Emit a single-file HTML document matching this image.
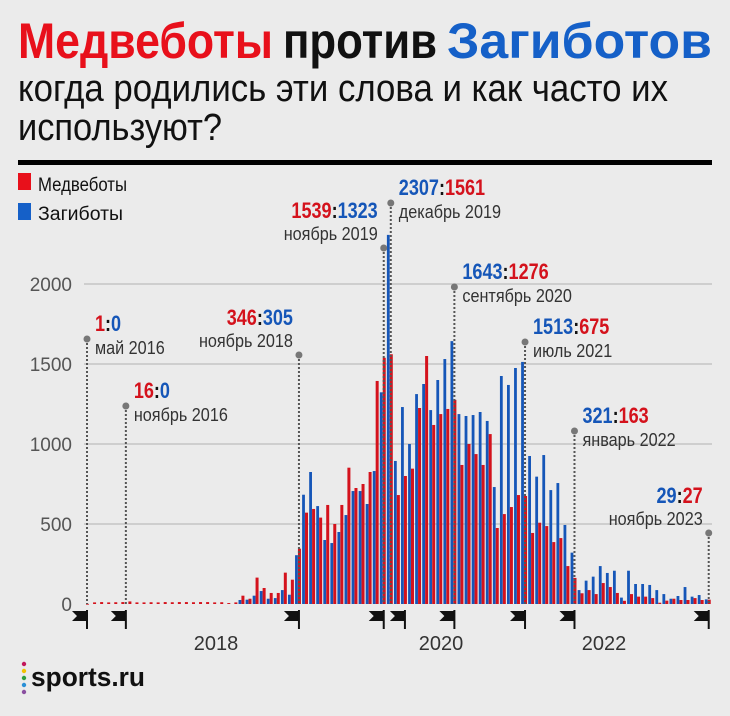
<!DOCTYPE html>
<html><head><meta charset="utf-8"><style>
html,body{margin:0;padding:0;background:#ebebeb;}
svg{display:block;font-family:"Liberation Sans Narrow","Liberation Sans",sans-serif;}
</style></head><body>
<svg id="chart" width="730" height="716" viewBox="0 0 730 716" xmlns="http://www.w3.org/2000/svg">
<rect width="730" height="716" fill="#ebebeb"/>
<g font-weight="bold" font-size="50">
<text x="18" y="58" fill="#e8101b" textLength="255" lengthAdjust="spacingAndGlyphs">Медвеботы</text>
<text x="283" y="58" fill="#111" textLength="154" lengthAdjust="spacingAndGlyphs">против</text>
<text x="447" y="58" fill="#1560c8" textLength="265" lengthAdjust="spacingAndGlyphs">Загиботов</text>
</g>
<text x="18" y="101" font-size="38" fill="#111" textLength="650" lengthAdjust="spacingAndGlyphs">когда родились эти слова и как часто их</text>
<text x="18" y="140" font-size="38" fill="#111" textLength="204" lengthAdjust="spacingAndGlyphs">используют?</text>
<rect x="18" y="160" width="694" height="5" fill="#000"/>
<g>
<rect x="18" y="173" width="13" height="17" fill="#e8101b"/>
<text x="38" y="191" font-size="19" fill="#111" textLength="89" lengthAdjust="spacingAndGlyphs">Медвеботы</text>
<rect x="18" y="203" width="13" height="17" fill="#1560c8"/>
<text x="38" y="220" font-size="19" fill="#111" textLength="85" lengthAdjust="spacingAndGlyphs">Загиботы</text>
</g>
<g id="grid"></g>
<g id="bars"></g>
<g id="annots"></g>
<g id="flags"></g>
<g font-size="20" fill="#333" font-family="Liberation Sans, sans-serif" text-anchor="middle">
<text x="216" y="650">2018</text>
<text x="441" y="650">2020</text>
<text x="604" y="650">2022</text>
</g>
<g>
<circle cx="24" cy="664" r="2.2" fill="#c2185b"/>
<circle cx="24" cy="671" r="2.2" fill="#f2c200"/>
<circle cx="24" cy="678" r="2.2" fill="#2e9e3e"/>
<circle cx="24" cy="685" r="2.2" fill="#2a8fd6"/>
<circle cx="24" cy="692" r="2.2" fill="#8a4fa0"/>
<text x="31" y="686" font-size="27" font-weight="bold" fill="#111" textLength="114" lengthAdjust="spacingAndGlyphs">sports.ru</text>
</g>
</svg>
<script>
const yTicks = [0, 500, 1000, 1500, 2000];
const zagibots = [0,0,0,0,0,0,0,0,0,0,0,0,0,0,0,0,0,0,0,0,0,0,25,27,52,81,33,37,87,58,
305,683,825,612,400,381,450,556,706,706,625,831,1323,2307,
894,1231,1000,1312,1375,1212,1400,1531,1643,1187,1175,1181,1200,1144,731,1425,1369,1475,1513,
925,796,931,712,756,494,321,87,146,171,237,194,208,40,208,125,125,119,87,62,33,50,106,46,56,29];
const medvebots = [1,10,12,10,11,12,16,10,10,11,10,12,11,12,12,11,12,12,10,11,6,10,52,33,165,100,69,69,196,152,
346,571,594,540,619,500,619,852,725,750,825,1394,1539,1561,
681,800,846,1225,1550,1119,1187,1219,1276,869,1000,937,869,1062,475,562,606,681,675,
444,508,487,387,412,237,163,67,87,62,131,106,69,20,62,46,46,37,8,21,33,25,25,37,25,27];
const annIndex = [0, 5.5, 30, 42, 43, 52, 62, 69, 88];
const annMonth = ["май 2016","ноябрь 2016","ноябрь 2018","ноябрь 2019","декабрь 2019","сентябрь 2020","июль 2021","январь 2022","ноябрь 2023"];
const annFirst = ["1","16","346","1539","2307","1643","1513","321","29"];
const annFirstColor = ["r","r","r","r","b","b","b","b","b"];
const annSecond = ["0","0","305","1323","1561","1276","675","163","27"];
const flagIndex = [0, 5.5, 30, 42, 45, 52, 62, 69, 88];

const NS = "http://www.w3.org/2000/svg";
const RED = "#d4121c", BLUE = "#1556b8";
function xPos(i){ return 86 + 7.065 * i; }
function yPos(v){ return 604 - v * 0.16; }
function mk(tag, attrs, parent){ const e = document.createElementNS(NS, tag); for (const k in attrs) e.setAttribute(k, attrs[k]); parent.appendChild(e); return e; }
function condense(t, f){ const w = t.getComputedTextLength(); if (w > 0) { t.setAttribute('textLength', (w * f).toFixed(1)); t.setAttribute('lengthAdjust', 'spacingAndGlyphs'); } }

const grid = document.getElementById('grid');
yTicks.forEach(t => {
  if (t > 0) {
    const l = mk('line', {x1:84, x2:712, y1:yPos(t), y2:yPos(t), stroke:'#bdbdbd', 'stroke-width':1.2}, grid);
    
    
  }
  const tx = mk('text', {x: 72, y: yPos(t) + 7, 'text-anchor':'end', 'font-size':19, fill:'#555', 'font-family':'Liberation Sans, sans-serif'}, grid);
  tx.textContent = t;
  
  
});

const bars = document.getElementById('bars');
for (let i = 0; i < zagibots.length; i++) {
  const c = xPos(i);
  if (zagibots[i] > 0) {
    const b = mk('rect', {x: c - 2.9, y: yPos(zagibots[i]), width: 2.8, height: zagibots[i] * 0.16, fill: BLUE}, bars);
    
    
  }
  if (medvebots[i] > 0) {
    const r = mk('rect', {x: c, y: yPos(medvebots[i]), width: 3, height: Math.max(medvebots[i] * 0.16, 0.8), fill: RED}, bars);
    
    
  }
}

const ann = document.getElementById('annots');
const dotY = [339, 406, 355, 248, 203, 287, 342, 431, 533];
const rightAligned = [false, false, true, true, false, false, false, false, true];
for (let k = 0; k < annIndex.length; k++) {
  const x = xPos(annIndex[k]) + 1;
  const g = mk('g', {}, ann);
  
  
  mk('line', {x1:x, x2:x, y1:dotY[k], y2:604, stroke:'#555', 'stroke-width':2, 'stroke-dasharray':'2 2'}, g);
  mk('circle', {cx:x, cy:dotY[k], r:3.5, fill:'#777'}, g);
  const ra = rightAligned[k];
  const tx = ra ? x - 6 : x + 8;
  const numY = ra ? dotY[k] - 30 : dotY[k] - 8;
  const monY = ra ? dotY[k] - 8 : dotY[k] + 15;
  const c1 = annFirstColor[k] === 'r' ? RED : BLUE;
  const c2 = annFirstColor[k] === 'r' ? BLUE : RED;
  const nt = mk('text', {x: tx, y: numY, 'font-size': 22, 'font-weight':'bold', 'text-anchor': ra ? 'end' : 'start'}, g);
  const s1 = mk('tspan', {fill: c1}, nt); s1.textContent = annFirst[k];
  const s2 = mk('tspan', {fill: '#111'}, nt); s2.textContent = ':';
  const s3 = mk('tspan', {fill: c2}, nt); s3.textContent = annSecond[k];
  const mt = mk('text', {x: tx, y: monY, 'font-size': 18, fill:'#333', 'text-anchor': ra ? 'end' : 'start'}, g);
  mt.textContent = annMonth[k];
  condense(nt, 0.82);
  condense(mt, 0.9);
}
const flags = document.getElementById('flags');
flagIndex.forEach((fi, n) => {
  const x = xPos(fi) + 1;
  const f = mk('g', {}, flags);
  
  
  mk('polygon', {points: `${x},611 ${x-15},611 ${x-10},616 ${x-15},621 ${x},621`, fill:'#111'}, f);
  mk('line', {x1:x, x2:x, y1:610, y2:629, stroke:'#111', 'stroke-width':2}, f);
});
</script>
</body></html>
